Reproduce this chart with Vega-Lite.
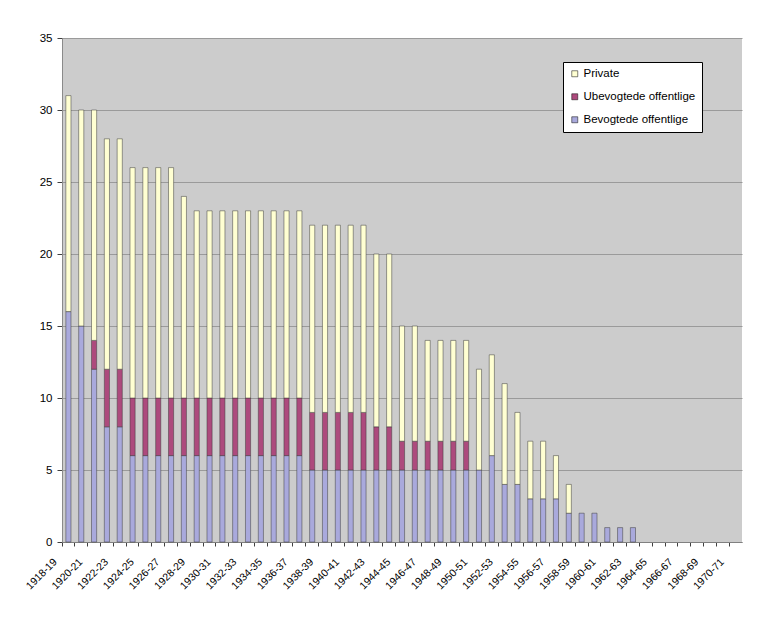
{
  "$schema": "https://vega.github.io/schema/vega-lite/v6.json",
  "width": 680,
  "height": 504,
  "autosize": {"type": "none"},
  "padding": {"left": 62, "top": 38, "right": 21, "bottom": 82},
  "background": "white",
  "config": {
    "view": {"fill": "#cccccc", "stroke": null},
    "font": "Liberation Sans"
  },
  "data": {
    "values": [
      {"season": "1918-19", "type": "Bevogtede offentlige", "count": 16},
      {"season": "1918-19", "type": "Private", "count": 15},
      {"season": "1919-20", "type": "Bevogtede offentlige", "count": 15},
      {"season": "1919-20", "type": "Private", "count": 15},
      {"season": "1920-21", "type": "Bevogtede offentlige", "count": 12},
      {"season": "1920-21", "type": "Ubevogtede offentlige", "count": 2},
      {"season": "1920-21", "type": "Private", "count": 16},
      {"season": "1921-22", "type": "Bevogtede offentlige", "count": 8},
      {"season": "1921-22", "type": "Ubevogtede offentlige", "count": 4},
      {"season": "1921-22", "type": "Private", "count": 16},
      {"season": "1922-23", "type": "Bevogtede offentlige", "count": 8},
      {"season": "1922-23", "type": "Ubevogtede offentlige", "count": 4},
      {"season": "1922-23", "type": "Private", "count": 16},
      {"season": "1923-24", "type": "Bevogtede offentlige", "count": 6},
      {"season": "1923-24", "type": "Ubevogtede offentlige", "count": 4},
      {"season": "1923-24", "type": "Private", "count": 16},
      {"season": "1924-25", "type": "Bevogtede offentlige", "count": 6},
      {"season": "1924-25", "type": "Ubevogtede offentlige", "count": 4},
      {"season": "1924-25", "type": "Private", "count": 16},
      {"season": "1925-26", "type": "Bevogtede offentlige", "count": 6},
      {"season": "1925-26", "type": "Ubevogtede offentlige", "count": 4},
      {"season": "1925-26", "type": "Private", "count": 16},
      {"season": "1926-27", "type": "Bevogtede offentlige", "count": 6},
      {"season": "1926-27", "type": "Ubevogtede offentlige", "count": 4},
      {"season": "1926-27", "type": "Private", "count": 16},
      {"season": "1927-28", "type": "Bevogtede offentlige", "count": 6},
      {"season": "1927-28", "type": "Ubevogtede offentlige", "count": 4},
      {"season": "1927-28", "type": "Private", "count": 14},
      {"season": "1928-29", "type": "Bevogtede offentlige", "count": 6},
      {"season": "1928-29", "type": "Ubevogtede offentlige", "count": 4},
      {"season": "1928-29", "type": "Private", "count": 13},
      {"season": "1929-30", "type": "Bevogtede offentlige", "count": 6},
      {"season": "1929-30", "type": "Ubevogtede offentlige", "count": 4},
      {"season": "1929-30", "type": "Private", "count": 13},
      {"season": "1930-31", "type": "Bevogtede offentlige", "count": 6},
      {"season": "1930-31", "type": "Ubevogtede offentlige", "count": 4},
      {"season": "1930-31", "type": "Private", "count": 13},
      {"season": "1931-32", "type": "Bevogtede offentlige", "count": 6},
      {"season": "1931-32", "type": "Ubevogtede offentlige", "count": 4},
      {"season": "1931-32", "type": "Private", "count": 13},
      {"season": "1932-33", "type": "Bevogtede offentlige", "count": 6},
      {"season": "1932-33", "type": "Ubevogtede offentlige", "count": 4},
      {"season": "1932-33", "type": "Private", "count": 13},
      {"season": "1933-34", "type": "Bevogtede offentlige", "count": 6},
      {"season": "1933-34", "type": "Ubevogtede offentlige", "count": 4},
      {"season": "1933-34", "type": "Private", "count": 13},
      {"season": "1934-35", "type": "Bevogtede offentlige", "count": 6},
      {"season": "1934-35", "type": "Ubevogtede offentlige", "count": 4},
      {"season": "1934-35", "type": "Private", "count": 13},
      {"season": "1935-36", "type": "Bevogtede offentlige", "count": 6},
      {"season": "1935-36", "type": "Ubevogtede offentlige", "count": 4},
      {"season": "1935-36", "type": "Private", "count": 13},
      {"season": "1936-37", "type": "Bevogtede offentlige", "count": 6},
      {"season": "1936-37", "type": "Ubevogtede offentlige", "count": 4},
      {"season": "1936-37", "type": "Private", "count": 13},
      {"season": "1937-38", "type": "Bevogtede offentlige", "count": 5},
      {"season": "1937-38", "type": "Ubevogtede offentlige", "count": 4},
      {"season": "1937-38", "type": "Private", "count": 13},
      {"season": "1938-39", "type": "Bevogtede offentlige", "count": 5},
      {"season": "1938-39", "type": "Ubevogtede offentlige", "count": 4},
      {"season": "1938-39", "type": "Private", "count": 13},
      {"season": "1939-40", "type": "Bevogtede offentlige", "count": 5},
      {"season": "1939-40", "type": "Ubevogtede offentlige", "count": 4},
      {"season": "1939-40", "type": "Private", "count": 13},
      {"season": "1940-41", "type": "Bevogtede offentlige", "count": 5},
      {"season": "1940-41", "type": "Ubevogtede offentlige", "count": 4},
      {"season": "1940-41", "type": "Private", "count": 13},
      {"season": "1941-42", "type": "Bevogtede offentlige", "count": 5},
      {"season": "1941-42", "type": "Ubevogtede offentlige", "count": 4},
      {"season": "1941-42", "type": "Private", "count": 13},
      {"season": "1942-43", "type": "Bevogtede offentlige", "count": 5},
      {"season": "1942-43", "type": "Ubevogtede offentlige", "count": 3},
      {"season": "1942-43", "type": "Private", "count": 12},
      {"season": "1943-44", "type": "Bevogtede offentlige", "count": 5},
      {"season": "1943-44", "type": "Ubevogtede offentlige", "count": 3},
      {"season": "1943-44", "type": "Private", "count": 12},
      {"season": "1944-45", "type": "Bevogtede offentlige", "count": 5},
      {"season": "1944-45", "type": "Ubevogtede offentlige", "count": 2},
      {"season": "1944-45", "type": "Private", "count": 8},
      {"season": "1945-46", "type": "Bevogtede offentlige", "count": 5},
      {"season": "1945-46", "type": "Ubevogtede offentlige", "count": 2},
      {"season": "1945-46", "type": "Private", "count": 8},
      {"season": "1946-47", "type": "Bevogtede offentlige", "count": 5},
      {"season": "1946-47", "type": "Ubevogtede offentlige", "count": 2},
      {"season": "1946-47", "type": "Private", "count": 7},
      {"season": "1947-48", "type": "Bevogtede offentlige", "count": 5},
      {"season": "1947-48", "type": "Ubevogtede offentlige", "count": 2},
      {"season": "1947-48", "type": "Private", "count": 7},
      {"season": "1948-49", "type": "Bevogtede offentlige", "count": 5},
      {"season": "1948-49", "type": "Ubevogtede offentlige", "count": 2},
      {"season": "1948-49", "type": "Private", "count": 7},
      {"season": "1949-50", "type": "Bevogtede offentlige", "count": 5},
      {"season": "1949-50", "type": "Ubevogtede offentlige", "count": 2},
      {"season": "1949-50", "type": "Private", "count": 7},
      {"season": "1950-51", "type": "Bevogtede offentlige", "count": 5},
      {"season": "1950-51", "type": "Private", "count": 7},
      {"season": "1951-52", "type": "Bevogtede offentlige", "count": 6},
      {"season": "1951-52", "type": "Private", "count": 7},
      {"season": "1952-53", "type": "Bevogtede offentlige", "count": 4},
      {"season": "1952-53", "type": "Private", "count": 7},
      {"season": "1953-54", "type": "Bevogtede offentlige", "count": 4},
      {"season": "1953-54", "type": "Private", "count": 5},
      {"season": "1954-55", "type": "Bevogtede offentlige", "count": 3},
      {"season": "1954-55", "type": "Private", "count": 4},
      {"season": "1955-56", "type": "Bevogtede offentlige", "count": 3},
      {"season": "1955-56", "type": "Private", "count": 4},
      {"season": "1956-57", "type": "Bevogtede offentlige", "count": 3},
      {"season": "1956-57", "type": "Private", "count": 3},
      {"season": "1957-58", "type": "Bevogtede offentlige", "count": 2},
      {"season": "1957-58", "type": "Private", "count": 2},
      {"season": "1958-59", "type": "Bevogtede offentlige", "count": 2},
      {"season": "1959-60", "type": "Bevogtede offentlige", "count": 2},
      {"season": "1960-61", "type": "Bevogtede offentlige", "count": 1},
      {"season": "1961-62", "type": "Bevogtede offentlige", "count": 1},
      {"season": "1962-63", "type": "Bevogtede offentlige", "count": 1}
    ]
  },
  "transform": [
    {"calculate": "indexof(['Bevogtede offentlige', 'Ubevogtede offentlige', 'Private'], datum.type)", "as": "stackRank"}
  ],
  "mark": {"type": "bar", "width": {"band": 0.4}, "stroke": "#3a3a3a", "strokeWidth": 0.5},
  "encoding": {
    "x": {
      "field": "season",
      "type": "nominal",
      "sort": null,
      "scale": {
        "domain": ["1918-19", "1919-20", "1920-21", "1921-22", "1922-23", "1923-24", "1924-25", "1925-26", "1926-27", "1927-28", "1928-29", "1929-30", "1930-31", "1931-32", "1932-33", "1933-34", "1934-35", "1935-36", "1936-37", "1937-38", "1938-39", "1939-40", "1940-41", "1941-42", "1942-43", "1943-44", "1944-45", "1945-46", "1946-47", "1947-48", "1948-49", "1949-50", "1950-51", "1951-52", "1952-53", "1953-54", "1954-55", "1955-56", "1956-57", "1957-58", "1958-59", "1959-60", "1960-61", "1961-62", "1962-63", "1963-64", "1964-65", "1965-66", "1966-67", "1967-68", "1968-69", "1969-70", "1970-71"],
        "paddingInner": 0,
        "paddingOuter": 0
      },
      "axis": {
        "title": null,
        "bandPosition": 0,
        "grid": false,
        "domainColor": "#808080",
        "tickColor": "#404040",
        "tickSize": 4,
        "labelAngle": -45,
        "labelAlign": "right",
        "labelBaseline": "middle",
        "labelPadding": 14,
        "labelOffset": -13,
        "labelFontSize": 10.5,
        "labelColor": "#000000",
        "labelOverlap": false,
        "labelFlush": false,
        "labelBound": false,
        "labelExpr": "toNumber(slice(datum.label, 0, 4)) % 2 == 0 ? datum.label : ''"
      }
    },
    "y": {
      "field": "count",
      "type": "quantitative",
      "stack": "zero",
      "scale": {"domain": [0, 35], "nice": false},
      "axis": {
        "title": null,
        "values": [0, 5, 10, 15, 20, 25, 30, 35],
        "grid": true,
        "gridColor": "#9a9a9a",
        "gridWidth": 1,
        "domainColor": "#8a8a8a",
        "tickColor": "#404040",
        "tickSize": 5,
        "labelPadding": 5,
        "labelFontSize": 11.5,
        "labelColor": "#000000"
      }
    },
    "order": {"field": "stackRank", "type": "quantitative", "sort": "ascending"},
    "color": {
      "field": "type",
      "type": "nominal",
      "sort": ["Private", "Ubevogtede offentlige", "Bevogtede offentlige"],
      "scale": {
        "domain": ["Private", "Ubevogtede offentlige", "Bevogtede offentlige"],
        "range": ["#ffffd2", "#ad4a7d", "#a9a9dc"]
      },
      "legend": {
        "title": null,
        "orient": "none",
        "legendX": 501,
        "legendY": 24,
        "fillColor": "#ffffff",
        "strokeColor": "#000000",
        "padding": 6,
        "symbolType": "square",
        "symbolSize": 36,
        "symbolStrokeColor": "#000000",
        "symbolStrokeWidth": 0.5,
        "symbolOpacity": 1,
        "labelFontSize": 11.5,
        "labelColor": "#000000",
        "labelOffset": 3,
        "rowPadding": 10
      }
    }
  }
}
